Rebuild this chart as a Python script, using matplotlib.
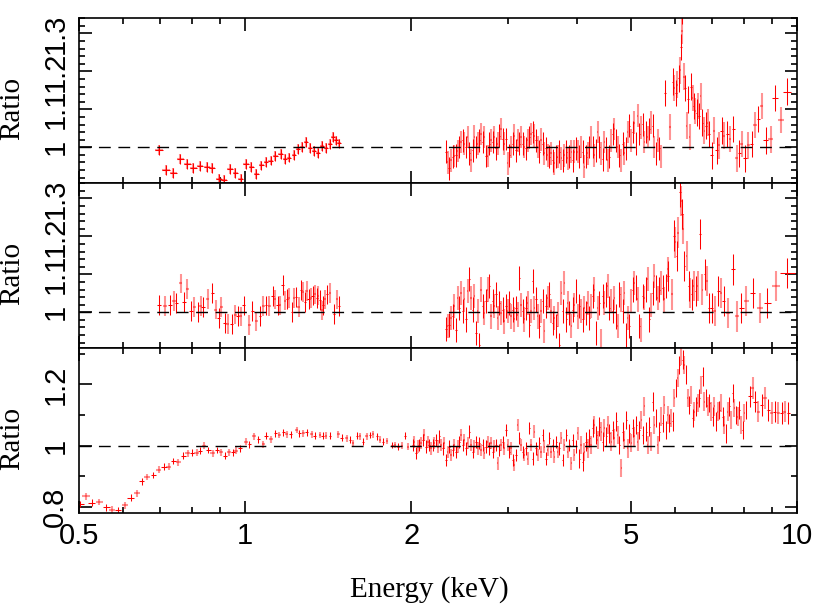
import numpy as np
import matplotlib
matplotlib.use("Agg")
import matplotlib.pyplot as plt
from matplotlib.ticker import FixedLocator, FuncFormatter, NullFormatter, MultipleLocator

# energy grid (keV) of the densely binned 2-8 keV data
grid_kev = [
    2.012, 2.026, 2.040, 2.054, 2.068, 2.083, 2.097, 2.112, 2.127, 2.142,
    2.157, 2.172, 2.187, 2.202, 2.218, 2.233, 2.249, 2.264, 2.280, 2.296,
    2.312, 2.328, 2.344, 2.361, 2.377, 2.394, 2.411, 2.427, 2.444, 2.461,
    2.479, 2.496, 2.513, 2.531, 2.548, 2.566, 2.584, 2.602, 2.620, 2.639,
    2.657, 2.676, 2.694, 2.713, 2.732, 2.751, 2.770, 2.790, 2.809, 2.829,
    2.848, 2.868, 2.888, 2.909, 2.929, 2.949, 2.970, 2.991, 3.011, 3.032,
    3.054, 3.075, 3.096, 3.118, 3.140, 3.162, 3.184, 3.206, 3.228, 3.251,
    3.274, 3.296, 3.319, 3.343, 3.366, 3.389, 3.413, 3.437, 3.461, 3.485,
    3.509, 3.534, 3.558, 3.583, 3.608, 3.633, 3.659, 3.684, 3.710, 3.736,
    3.762, 3.788, 3.815, 3.841, 3.868, 3.895, 3.922, 3.950, 3.977, 4.005,
    4.033, 4.061, 4.090, 4.118, 4.147, 4.176, 4.205, 4.234, 4.264, 4.294,
    4.324, 4.354, 4.384, 4.415, 4.446, 4.477, 4.508, 4.539, 4.571, 4.603,
    4.635, 4.667, 4.700, 4.733, 4.766, 4.799, 4.832, 4.866, 4.900, 4.934,
    4.969, 5.004, 5.039, 5.074, 5.109, 5.145, 5.181, 5.217, 5.253, 5.290,
    5.327, 5.364, 5.401, 5.439, 5.477, 5.515, 5.554, 5.593, 5.632, 5.671,
    5.711, 5.751, 5.791, 5.831, 5.872, 5.913, 5.954, 5.996, 6.038, 6.080,
    6.122, 6.165, 6.208, 6.251, 6.295, 6.339, 6.383, 6.428, 6.473, 6.518,
    6.563, 6.609, 6.655, 6.702, 6.748, 6.795, 6.843, 6.891, 6.939, 6.987,
    7.036, 7.085, 7.134, 7.184, 7.234, 7.285, 7.336, 7.387, 7.438, 7.490,
    7.542, 7.595, 7.648, 7.701, 7.755, 7.809, 7.864, 7.919, 7.974, 8.030,
    8.086,
]

# ---- panel 1 ----
p1_lo_kev = [0.699, 0.719, 0.741, 0.763, 0.786, 0.806, 0.828, 0.852, 0.871, 0.896,
             0.916, 0.939, 0.960, 0.982, 1.004, 1.026, 1.048, 1.070, 1.091, 1.113,
             1.134, 1.160, 1.181, 1.202, 1.226, 1.248, 1.269, 1.289, 1.311, 1.333,
             1.355, 1.377, 1.401, 1.425, 1.441, 1.461, 1.481]
p1_lo_ratio = [0.992, 0.941, 0.932, 0.968, 0.956, 0.945, 0.951, 0.948, 0.945, 0.917,
               0.915, 0.943, 0.932, 0.917, 0.956, 0.948, 0.930, 0.952, 0.962, 0.965,
               0.977, 0.982, 0.968, 0.973, 0.979, 0.995, 1.001, 1.014, 0.999, 0.991,
               0.985, 1.003, 0.999, 1.008, 1.028, 1.018, 1.010]
p1_hi_ratio = [
    0.988, 0.960, 0.945, 0.966, 0.975, 0.977, 0.979, 0.990, 1.001, 1.014,
    1.018, 1.009, 1.001, 1.027, 0.984, 0.966, 0.992, 1.028, 1.001, 1.009,
    1.018, 1.035, 1.014, 1.027, 0.977, 0.977, 1.009, 1.018, 1.014, 1.027,
    0.997, 1.009, 1.031, 1.048, 1.022, 1.009, 1.022, 0.958, 0.979, 1.001,
    1.009, 1.031, 0.992, 1.018, 1.009, 1.027, 1.009, 1.001, 0.997, 1.018,
    1.027, 1.035, 1.040, 1.031, 1.018, 1.001, 0.988, 1.020, 1.009, 0.984,
    0.997, 0.979, 0.975, 0.984, 0.966, 0.958, 0.975, 0.975, 0.988, 0.971,
    0.966, 0.979, 0.988, 0.971, 0.975, 0.988, 0.966, 0.988, 0.997, 0.988,
    0.975, 1.001, 0.988, 0.949, 0.975, 0.984, 1.001, 1.027, 1.001, 0.979,
    0.992, 1.040, 1.001, 0.984, 0.968, 1.014, 0.997, 0.966, 0.975, 1.018,
    1.035, 1.048, 1.018, 1.001, 0.979, 0.966, 1.009, 0.984, 0.997, 1.040,
    1.057, 1.018, 1.040, 1.065, 1.009, 1.083, 1.035, 1.053, 1.061, 1.014,
    1.040, 1.027, 1.048, 1.065, 1.057, 1.001, 0.984, 1.018, 0.997, 0.975,
]
p1_fe_kev = [5.76, 5.88, 5.95, 5.99, 6.03, 6.07, 6.10, 6.14, 6.16, 6.19,
             6.20, 6.24, 6.27, 6.31, 6.35, 6.39, 6.42, 6.47, 6.50, 6.54,
             6.58, 6.61, 6.65, 6.69, 6.74, 6.79, 6.84, 6.89, 6.93]
p1_fe_ratio = [1.143, 1.053, 1.173, 1.156, 1.143, 1.165, 1.182, 1.203, 1.264, 1.307,
               1.360, 1.186, 1.156, 1.057, 1.126, 1.027, 1.160, 1.130, 1.109, 1.096,
               1.091, 1.109, 1.083, 1.134, 1.065, 1.044, 1.057, 1.065, 1.035]
p1_tail_kev = [7.00, 7.07, 7.15, 7.23, 7.30, 7.37, 7.47, 7.56, 7.66, 7.77,
               7.86, 7.94, 8.05, 8.16, 8.28, 8.39, 8.51, 8.63, 8.77, 8.96,
               9.12, 9.34, 9.60]
p1_tail_ratio = [0.979, 1.044, 0.992, 1.005, 1.044, 1.031, 1.035, 1.022, 1.048, 0.971,
                 0.984, 1.009, 0.971, 1.005, 1.009, 1.059, 1.074, 1.109, 1.018, 1.021,
                 1.130, 1.072, 1.147]
p1_tail_xerr = [0.03, 0.03, 0.035, 0.035, 0.035, 0.04, 0.045, 0.045, 0.05, 0.05,
                0.045, 0.05, 0.055, 0.055, 0.06, 0.06, 0.06, 0.065, 0.08, 0.09,
                0.10, 0.12, 0.16]

# ---- panel 2 ----
p2_lo_kev = [0.699, 0.716, 0.731, 0.743, 0.751, 0.764, 0.774, 0.786, 0.798, 0.809,
             0.822, 0.831, 0.839, 0.855, 0.872, 0.885, 0.895, 0.906, 0.918, 0.930,
             0.946, 0.959, 0.970, 0.981, 0.994, 1.017, 1.030, 1.047, 1.064, 1.079,
             1.091, 1.107, 1.122, 1.133, 1.145, 1.156, 1.169, 1.182, 1.192, 1.202,
             1.216, 1.226, 1.236, 1.250, 1.261, 1.274, 1.283, 1.292, 1.303, 1.314,
             1.325, 1.336, 1.348, 1.357, 1.367, 1.376, 1.386, 1.397, 1.408, 1.425,
             1.451, 1.465, 1.482]
p2_lo_ratio = [1.020, 1.016, 1.020, 1.029, 1.025, 1.076, 1.027, 1.062, 1.003, 1.014,
               1.000, 1.016, 1.013, 1.035, 1.051, 1.007, 0.985, 1.013, 0.972, 0.970,
               0.970, 0.994, 0.991, 0.989, 1.018, 0.967, 1.003, 0.976, 0.991, 1.016,
               1.018, 1.016, 1.042, 1.034, 1.018, 1.018, 1.071, 1.031, 1.035, 1.038,
               1.000, 1.038, 1.041, 1.014, 1.058, 1.053, 1.027, 1.056, 1.035, 1.038,
               1.044, 1.047, 1.038, 1.044, 1.032, 1.005, 1.018, 1.034, 1.047, 1.051,
               0.996, 1.034, 1.016]
p2_hi_ratio = [
    0.956, 0.963, 0.967, 0.985, 0.989, 1.016, 0.954, 1.038, 1.011, 1.051,
    1.003, 1.034, 0.981, 1.056, 1.087, 1.038, 1.007, 1.042, 0.945, 1.003,
    0.914, 1.060, 1.016, 0.998, 1.029, 1.060, 1.069, 0.989, 1.029, 1.016,
    1.047, 0.985, 1.025, 0.998, 1.007, 0.976, 1.016, 1.003, 1.025, 0.989,
    1.007, 0.981, 1.011, 0.994, 1.091, 1.020, 1.003, 0.981, 1.011, 1.025,
    0.967, 1.003, 1.082, 1.011, 1.034, 0.989, 0.963, 1.003, 1.029, 0.950,
    1.016, 1.038, 1.047, 1.003, 0.972, 0.985, 0.963, 0.994, 0.914, 1.051,
    1.003, 1.078, 0.981, 1.025, 0.998, 0.963, 1.007, 1.020, 1.056, 0.989,
    1.016, 1.003, 0.981, 1.011, 0.998, 1.025, 0.985, 1.016, 1.042, 1.060,
    0.945, 1.011, 1.025, 0.923, 1.042, 1.025, 1.047, 1.069, 1.011, 1.029,
    1.003, 1.038, 0.989, 0.963, 1.047, 1.034, 1.003, 1.051, 0.941, 0.985,
    0.963, 1.029, 1.060, 1.078, 1.065, 1.034, 0.963, 0.954, 1.042, 1.038,
    1.060, 1.087, 0.981, 1.020, 1.051, 1.095, 1.065, 1.038, 1.060, 1.078,
    1.065, 1.034, 1.069, 1.113,
]
p2_fe_kev = [5.84, 5.93, 5.99, 6.02, 6.05, 6.09, 6.14, 6.16, 6.19, 6.22,
             6.25, 6.31, 6.36, 6.39, 6.44, 6.50, 6.55, 6.61, 6.67, 6.74,
             6.80, 6.87, 6.93]
p2_fe_ratio = [1.095, 1.047, 1.202, 1.184, 1.149, 1.210, 1.317, 1.294, 1.259, 1.219,
               1.122, 1.149, 1.069, 1.051, 1.047, 1.069, 1.056, 1.069, 1.206, 1.060,
               1.100, 1.082, 1.011]
p2_tail_kev = [7.00, 7.10, 7.20, 7.28, 7.37, 7.50, 7.66, 7.79, 7.93, 8.10,
               8.31, 8.57, 8.83, 9.15, 9.61]
p2_tail_ratio = [1.011, 1.003, 1.056, 1.051, 1.029, 0.998, 1.113, 0.989, 1.011, 1.029,
                 1.051, 1.011, 1.025, 1.069, 1.103]
p2_tail_xerr = [0.04, 0.045, 0.045, 0.04, 0.05, 0.06, 0.07, 0.06, 0.07, 0.08,
                0.10, 0.12, 0.13, 0.15, 0.30]

# ---- panel 3 ----
p3_lo_kev = [0.502, 0.515, 0.527, 0.544, 0.560, 0.574, 0.589, 0.606, 0.620, 0.636,
             0.649, 0.663, 0.682, 0.697, 0.713, 0.727, 0.741, 0.757, 0.773, 0.787,
             0.801, 0.817, 0.828, 0.842, 0.858, 0.873, 0.890, 0.903, 0.918, 0.934,
             0.950, 0.963, 0.979, 1.004, 1.018, 1.038, 1.057, 1.079, 1.091, 1.114,
             1.134, 1.153, 1.173, 1.189, 1.209, 1.240, 1.254, 1.275, 1.292, 1.320,
             1.338, 1.367, 1.382, 1.401, 1.425, 1.475, 1.496, 1.527, 1.548, 1.570,
             1.596, 1.614, 1.637, 1.660, 1.683, 1.707, 1.731, 1.755, 1.780, 1.805,
             1.843, 1.869, 1.895, 1.921, 1.948, 1.975]
p3_lo_ratio = [0.809, 0.835, 0.814, 0.816, 0.798, 0.791, 0.789, 0.805, 0.830, 0.844,
               0.884, 0.898, 0.904, 0.922, 0.931, 0.931, 0.950, 0.945, 0.967, 0.975,
               0.977, 0.977, 0.983, 1.000, 0.986, 0.975, 0.986, 0.978, 0.967, 0.978,
               0.978, 0.983, 0.991, 1.013, 1.004, 1.030, 1.021, 1.004, 1.032, 1.021,
               1.040, 1.035, 1.044, 1.037, 1.037, 1.051, 1.040, 1.040, 1.044, 1.037,
               1.033, 1.035, 1.033, 1.033, 1.033, 1.037, 1.026, 1.024, 1.019, 1.008,
               1.033, 1.030, 1.013, 1.030, 1.035, 1.037, 1.030, 1.019, 1.013, 1.015,
               1.002, 1.002, 0.997, 1.000, 1.033, 0.997]
p3_mid_ratio = [
    1.002, 1.013, 0.975, 0.997, 1.002, 1.008, 1.019, 1.035, 0.997, 1.013,
    1.002, 0.991, 1.002, 1.008, 1.019, 0.997, 1.030, 1.002, 0.991, 1.008,
    0.953, 0.980, 0.997, 0.969, 0.986, 1.002, 0.980, 0.997, 1.013, 1.035,
    1.002, 1.019, 0.991, 1.008, 1.046, 1.002, 0.980, 0.997, 1.013, 0.991,
    1.008, 0.986, 1.002, 0.975, 0.997, 1.013, 0.991, 1.008, 0.980, 0.997,
    1.002, 0.942, 0.986, 1.002, 1.013, 0.991, 1.051, 1.002, 0.980, 0.991,
    0.953, 0.937, 0.969, 1.068, 1.024, 1.002, 0.980, 0.969, 0.991, 0.958,
    1.057, 1.002, 0.958, 1.046, 0.991, 0.969, 1.008, 0.980, 1.035, 0.997,
    0.958, 0.986, 1.024, 0.980, 1.002, 0.964, 1.013, 0.980, 0.991, 1.024,
    0.953, 1.002, 1.035, 0.980, 1.002, 0.942, 1.019, 0.969, 0.997, 1.040,
]
p3_hi_ratio = [
    0.958, 1.002, 0.948, 0.980, 1.013, 0.991, 1.024, 1.002, 1.057, 1.068,
    1.035, 1.019, 1.062, 1.046, 1.013, 1.057, 1.030, 1.068, 1.040, 1.013,
    1.051, 1.024, 1.079, 1.035, 1.002, 0.926, 1.046, 1.019, 1.084, 0.991,
    1.040, 1.008, 1.057, 1.030, 1.068, 1.013, 1.051, 1.084, 1.035, 1.128,
    1.046, 1.002, 1.062, 1.013, 1.144, 1.068, 1.090, 1.002, 1.046, 1.095,
    1.073, 1.133, 1.051, 1.101, 1.073, 1.090, 1.079, 1.155, 1.188, 1.221,
    1.264, 1.292, 1.281, 1.264, 1.232, 1.155, 1.133, 1.166, 1.090, 1.111,
    1.128, 1.139, 1.155, 1.199, 1.226, 1.144, 1.155, 1.128, 1.139, 1.111,
    1.095, 1.128, 1.079, 1.111, 1.117, 1.139, 1.095, 1.068, 1.040, 1.111,
    1.128, 1.084, 1.172, 1.122, 1.101, 1.095, 1.117, 1.068, 1.051, 1.106,
    1.117,
]
p3_tail_kev = [8.22, 8.31, 8.40, 8.51, 8.63, 8.75, 8.87, 9.00, 9.12, 9.25, 9.38, 9.51, 9.65]
p3_tail_ratio = [1.161, 1.188, 1.144, 1.111, 1.133, 1.155, 1.117, 1.106, 1.111, 1.106,
                 1.106, 1.111, 1.106]

RED = (1.0, 0.0, 0.0, 1.0)
PALE = (1.0, 0.0, 0.0, 0.42)


def bars(ax, e, r, yerr, xerr, both=False):
    e = np.asarray(e, float)
    r = np.asarray(r, float)
    yerr = np.broadcast_to(np.asarray(yerr, float), e.shape)
    xerr = np.broadcast_to(np.asarray(xerr, float), e.shape)
    if both:
        picks = [(slice(None), PALE, 1.5), (slice(None), RED, 0.75)]
    else:
        picks = [(slice(1, None, 2), PALE, 1.5), (slice(0, None, 2), RED, 0.75)]
    for sl, col, lw in picks:
        ax.errorbar(e[sl], r[sl], yerr=yerr[sl], xerr=xerr[sl], fmt='none',
                    ecolor=col, elinewidth=lw, capsize=0, zorder=2)


plt.rcParams['font.family'] = ['Liberation Sans', 'DejaVu Sans']
fig = plt.figure(figsize=(8.3, 6.06), dpi=100)

left, width, height = 79 / 830, 718 / 830, 165 / 606
bottoms = [1 - 183.3 / 606, 1 - 348.3 / 606, 1 - 513.3 / 606]
axes = [fig.add_axes([left, b, width, height]) for b in bottoms]

grid = np.asarray(grid_kev)

ax1 = axes[0]
bars(ax1, p1_lo_kev, p1_lo_ratio, 0.013, 0.011, both=True)
bars(ax1, grid[20:20 + len(p1_hi_ratio)], p1_hi_ratio, 0.03, 0.008)
bars(ax1, p1_fe_kev, p1_fe_ratio, 0.035, 0.02)
bars(ax1, p1_tail_kev, p1_tail_ratio, 0.035, p1_tail_xerr)

ax2 = axes[1]
bars(ax2, p2_lo_kev, p2_lo_ratio, 0.026, 0.006)
bars(ax2, grid[20:20 + len(p2_hi_ratio)], p2_hi_ratio, 0.032, 0.008)
bars(ax2, p2_fe_kev, p2_fe_ratio, 0.04, 0.02)
bars(ax2, p2_tail_kev, p2_tail_ratio, 0.04, p2_tail_xerr)

ax3 = axes[2]
bars(ax3, p3_lo_kev, p3_lo_ratio, 0.011, 0.008)
bars(ax3, grid[:len(p3_mid_ratio)], p3_mid_ratio, 0.02, 0.008)
bars(ax3, grid[100:100 + len(p3_hi_ratio)], p3_hi_ratio, 0.03, 0.01)
bars(ax3, p3_tail_kev, p3_tail_ratio, 0.035, 0.06)

fmt = FuncFormatter(lambda v, p: f'{v:g}')
for i, ax in enumerate(axes):
    ax.axhline(1.0, color='black', lw=1.0, ls=(0, (8.5, 5.5)), zorder=3)
    ax.set_xscale('log')
    ax.set_xlim(0.5, 10)
    ax.xaxis.set_major_locator(FixedLocator([0.5, 1, 2, 5, 10]))
    ax.xaxis.set_minor_locator(FixedLocator([0.6, 0.7, 0.8, 0.9, 3, 4, 6, 7, 8, 9]))
    ax.xaxis.set_minor_formatter(NullFormatter())
    if i < 2:
        ax.set_ylim(0.905, 1.34)
        ax.yaxis.set_major_locator(FixedLocator([1.0, 1.1, 1.2, 1.3]))
        ax.yaxis.set_minor_locator(MultipleLocator(0.02))
        ax.xaxis.set_major_formatter(NullFormatter())
    else:
        ax.set_ylim(0.779, 1.318)
        ax.yaxis.set_major_locator(FixedLocator([0.8, 1.0, 1.2]))
        ax.yaxis.set_minor_locator(FixedLocator([0.9, 1.1, 1.3]))
        ax.xaxis.set_major_formatter(fmt)
    ax.yaxis.set_major_formatter(fmt)
    ax.yaxis.set_minor_formatter(NullFormatter())
    ax.tick_params(which='both', direction='in', top=True, right=True, width=1.2,
                   labelsize=21)
    ax.tick_params(which='major', length=9)
    ax.tick_params(which='minor', length=4.5)
    ax.tick_params(axis='x', pad=6)
    ax.tick_params(axis='y', pad=7, labelrotation=90)
    for lab in ax.get_yticklabels():
        lab.set_va('center')
    for s in ax.spines.values():
        s.set_linewidth(1.2)

for yc in [108, 273, 438]:
    fig.text(12 / 830, 1 - yc / 606, 'Ratio', rotation=90, ha='center', va='center',
             family='Liberation Serif', fontsize=21)
fig.text(429 / 830, 1 - 590 / 606, 'Energy (keV)', ha='center', va='center',
         family='Liberation Serif', fontsize=21)

fig.savefig('out.png', dpi=100)
